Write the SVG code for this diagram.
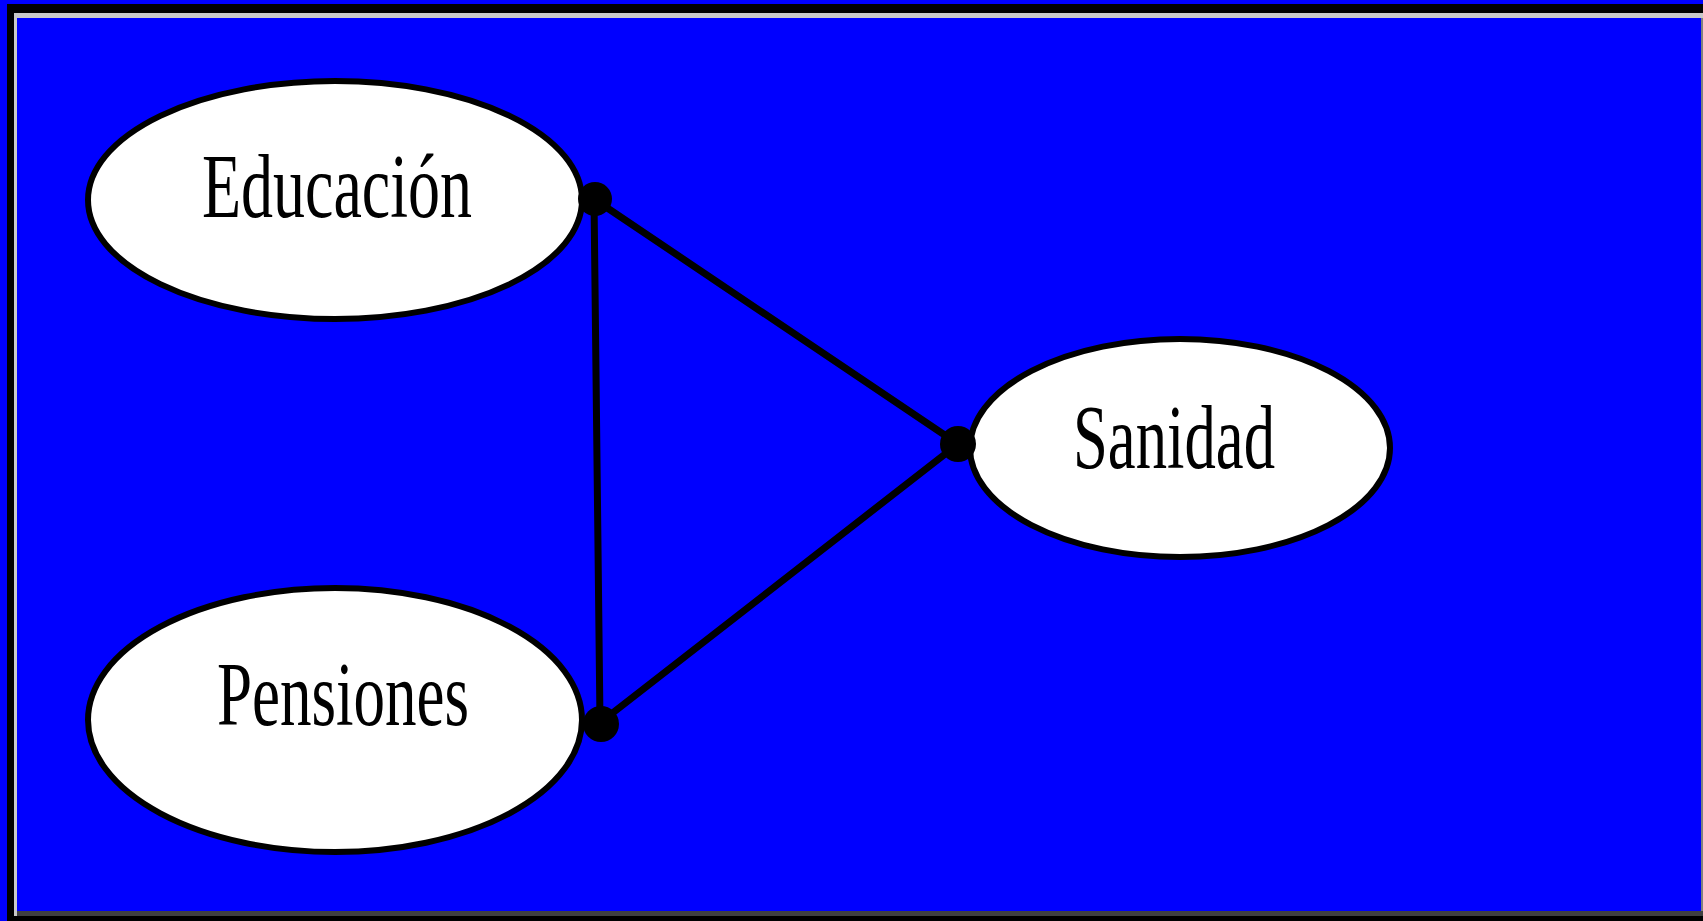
<svg xmlns="http://www.w3.org/2000/svg" width="1703" height="921" viewBox="0 0 1703 921">
<style>
.node ellipse{fill:#ffffff;stroke:#000000;stroke-width:6}
.node text{font-family:"Liberation Serif","Times New Roman",serif;font-size:90px;fill:#000000;text-anchor:middle}
.conn line{stroke:#000000;stroke-width:7;stroke-linecap:round}
.dot{fill:#000000}
</style>
<rect x="0" y="0" width="1703" height="921" fill="#0000ff"/>
<rect x="7" y="4" width="1696" height="917" fill="#000000"/>
<rect x="14" y="13" width="1689" height="903" fill="#c8c8c8"/>
<rect x="17" y="18" width="1686" height="898" fill="#404040"/>
<rect x="17" y="18" width="1684" height="893" fill="#0000ff"/>
<rect x="1701" y="18" width="2" height="893" fill="#808080"/>
<g id="connectors" class="conn">
<line x1="594" y1="199" x2="600" y2="722"/>
<line x1="594" y1="199" x2="958" y2="444"/>
<line x1="601" y1="722" x2="958" y2="444"/>
</g>
<g id="educacion" class="node">
<ellipse cx="335" cy="200" rx="247" ry="119"/>
<text x="337" y="217" textLength="270" lengthAdjust="spacingAndGlyphs">Educación</text>
</g>
<g id="sanidad" class="node">
<ellipse cx="1180" cy="448" rx="210" ry="109"/>
<text x="1174" y="468" textLength="202" lengthAdjust="spacingAndGlyphs">Sanidad</text>
</g>
<g id="pensiones" class="node">
<ellipse cx="335" cy="720" rx="247" ry="132"/>
<text x="343" y="725" textLength="252" lengthAdjust="spacingAndGlyphs">Pensiones</text>
</g>
<g id="junctions">
<circle class="dot" cx="595" cy="199" r="17"/>
<circle class="dot" cx="601" cy="724" r="18"/>
<circle class="dot" cx="958" cy="444" r="18"/>
</g>
</svg>
